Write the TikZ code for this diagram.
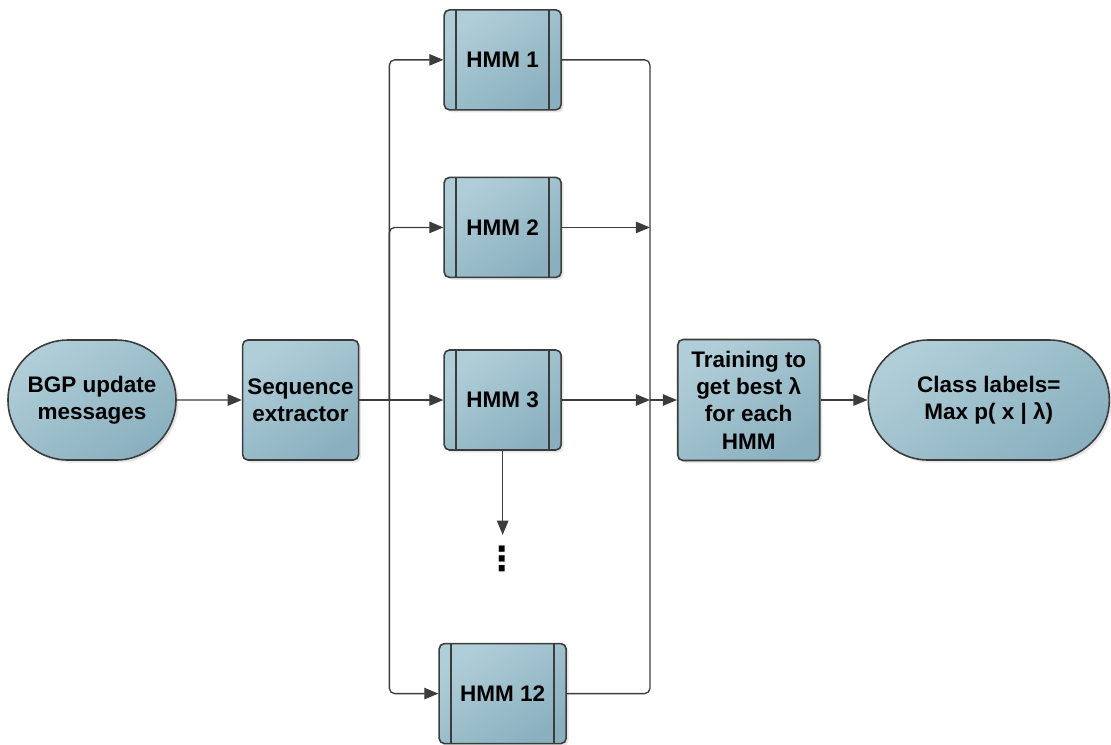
\documentclass[tikz,border=0pt]{standalone}
\usepackage{fontspec}
\setmainfont{Liberation Sans}
\newfontfamily\dotsfont{DejaVu Sans}
\definecolor{boxlight}{RGB}{176,206,216}
\definecolor{boxdark}{RGB}{138,176,191}
\definecolor{edge}{RGB}{60,60,60}
\usetikzlibrary{shapes.misc, arrows.meta, positioning, shadows, calc}

\begin{document}
\begin{tikzpicture}[
            node distance=1.3cm,
            txt/.style={align=center, inner sep=0pt, font=\fontsize{12.8}{15.5}\selectfont\bfseries},
            block/.style={txt, draw=edge, line width=0.9pt, top color=boxlight, bottom color=boxdark, shading angle=35, rounded corners=3pt, minimum height=2.4cm, drop shadow={opacity=0.2, shadow xshift=0.05cm, shadow yshift=-0.05cm}},
            term/.style={txt, rounded rectangle, draw=edge, line width=0.9pt, top color=boxlight, bottom color=boxdark, shading angle=35, minimum height=2.4cm, drop shadow={opacity=0.2, shadow xshift=0.05cm, shadow yshift=-0.05cm}},
            hmm/.style={block, minimum width=2.34cm, minimum height=2.0cm, path picture={
                \draw[edge, line width=0.9pt] ($(path picture bounding box.north west)+(0.24,0)$) -- ($(path picture bounding box.south west)+(0.24,0)$);
                \draw[edge, line width=0.9pt] ($(path picture bounding box.north east)+(-0.24,0)$) -- ($(path picture bounding box.south east)+(-0.24,0)$);}},
            dotsbox/.style={inner sep=0pt, font=\dotsfont\bfseries\fontsize{19}{19}\selectfont},
            line/.style={edge, line width=0.75pt, rounded corners=3pt},
            arr/.style={line, -{Triangle[length=8pt, width=6.5pt]}}
        ]
            \useasboundingbox (0,0) rectangle (22.22,-14.88);

            \node[term, minimum width=3.36cm] (bgp) at (1.84,-8.0) {BGP update\\messages};
            \node[block, minimum width=2.32cm, right=1.3cm of bgp] (seq) {Sequence\\extractor};
            \node[hmm, right=1.68cm of seq] (h3) {HMM 3};
            \node[hmm, above=1.42cm of h3] (h2) {HMM 2};
            \node[hmm, above=1.32cm of h2] (h1) {HMM 1};
            \node[hmm, minimum width=2.54cm, below=3.84cm of h3] (h12) {HMM 12};
            \node[dotsbox, below=1.9cm of h3] (dots) {⋮};
            \node[block, minimum width=2.84cm, minimum height=2.42cm, right=2.3cm of h3] (train) {Training to\\get best λ\\for each\\HMM};
            \node[term, minimum width=4.82cm, right=0.94cm of train] (cls) {Class labels=\\Max p( x | λ)};

            \coordinate (split) at ($(seq.east)+(0.6,0)$);
            \coordinate (merge) at ($(train.west)+(-0.54,0)$);

            \draw[arr] (bgp) -- (seq);
            \draw[arr] (seq) -- (h3);
            \draw[arr] (split) |- (h1.west);
            \draw[arr] (split) |- (h2.west);
            \draw[arr] (split) |- (h12.west);

            \draw[line] (h1.east) -| (merge);
            \draw[arr] (h2.east) -- (h2.east -| merge);
            \draw[arr] (h3.east) -- (merge);
            \draw[line] (h12.east) -| (merge);
            \draw[arr] (merge) -- (train);
            \draw[arr] (train) -- (cls);

            \draw[arr, shorten >=0.22cm] (h3.south) -- (dots.north);
        \end{tikzpicture}
\end{document}
